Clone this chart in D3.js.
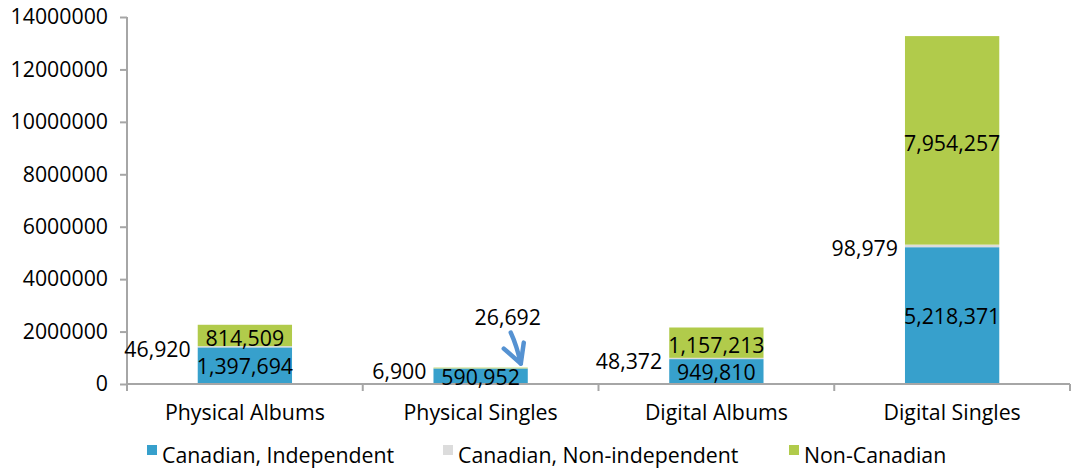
<!DOCTYPE html>
<html>
<head>
<meta charset="utf-8">
<script src="https://cdn.jsdelivr.net/npm/d3@7"></script>
<style>
  html, body { margin: 0; padding: 0; background: #fff; }
  svg { display: block; font-family: "Open Sans", "Noto Sans", sans-serif; }
</style>
</head>
<body>
<svg id="chart" width="1072" height="471"></svg>
<script>
// Units sold by format and origin
const categories = ["Physical Albums", "Physical Singles", "Digital Albums", "Digital Singles"];
const canadianIndependent = [1397694, 590952, 949810, 5218371];
const canadianNonIndependent = [46920, 6900, 48372, 98979];
const nonCanadian = [814509, 26692, 1157213, 7954257];
const yTicks = [0, 2000000, 4000000, 6000000, 8000000, 10000000, 12000000, 14000000];
const seriesNames = ["Canadian, Independent", "Canadian, Non-independent", "Non-Canadian"];
const seriesColors = ["#37a0cc", "#dcdcdc", "#b1cb4b"];

const svg = d3.select("#chart");
const plotLeft = 127, plotRight = 1070, plotTop = 17, plotBottom = 384;
const fontSize = 21.3;

const x = d3.scaleBand().domain(categories).range([plotLeft, plotRight])
  .paddingInner(0.6).paddingOuter(0.3);
const y = d3.scaleLinear().domain([0, 14000000]).range([plotBottom, plotTop]);

const rows = categories.map((c, i) => ({
  cat: c,
  ci: canadianIndependent[i],
  cn: canadianNonIndependent[i],
  nc: nonCanadian[i]
}));
const stack = d3.stack().keys(["ci", "cn", "nc"])(rows);

// Stacked bars
stack.forEach((layer, k) => {
  svg.append("g").selectAll("rect").data(layer).join("rect")
    .attr("x", d => x(d.data.cat))
    .attr("width", x.bandwidth())
    .attr("y", d => y(d[1]))
    .attr("height", d => Math.max(0, y(d[0]) - y(d[1])))
    .attr("fill", seriesColors[k]);
});

// Y axis
const yAxis = svg.append("g").attr("transform", `translate(${plotLeft},0)`)
  .call(d3.axisLeft(y).tickValues(yTicks).tickFormat(d3.format("d")).tickSize(7).tickPadding(12));
yAxis.select(".domain").attr("stroke", "#a6a6a6").attr("stroke-width", 2)
  .attr("d", `M0,${plotTop}V${plotBottom}`);
yAxis.selectAll(".tick line").attr("stroke", "#a6a6a6").attr("stroke-width", 2);
yAxis.selectAll(".tick text").attr("font-size", fontSize).attr("fill", "#000")
  .attr("font-family", "'Open Sans', sans-serif");

// X axis line and category separators
const step = x.step();
svg.append("line").attr("x1", plotLeft).attr("x2", plotRight).attr("y1", plotBottom).attr("y2", plotBottom)
  .attr("stroke", "#a6a6a6").attr("stroke-width", 2);
d3.range(categories.length + 1).forEach(i => {
  const xx = plotLeft + i * step;
  svg.append("line").attr("x1", xx).attr("x2", xx).attr("y1", plotBottom).attr("y2", plotBottom + 7)
    .attr("stroke", "#a6a6a6").attr("stroke-width", 2);
});
svg.append("g").selectAll("text").data(categories).join("text")
  .attr("x", d => x(d) + x.bandwidth() / 2)
  .attr("y", 420)
  .attr("text-anchor", "middle")
  .attr("font-size", fontSize)
  .text(d => d);

const fmt = d3.format(",");
const labels = svg.append("g").attr("font-size", fontSize).attr("fill", "#000");

// Canadian, Independent labels centred in segment
stack[0].forEach(d => {
  labels.append("text")
    .attr("x", x(d.data.cat) + x.bandwidth() / 2)
    .attr("y", (y(d[0]) + y(d[1])) / 2 + 1)
    .attr("dy", "0.35em").attr("text-anchor", "middle")
    .text(fmt(d.data.ci));
});
// Canadian, Non-independent labels to the left of the bar
stack[1].forEach(d => {
  labels.append("text")
    .attr("x", x(d.data.cat) - 7)
    .attr("y", (y(d[0]) + y(d[1])) / 2 + 3)
    .attr("dy", "0.35em").attr("text-anchor", "end")
    .text(fmt(d.data.cn));
});
// Non-Canadian labels; the thin segment gets a callout above the bar
stack[2].forEach(d => {
  const h = y(d[0]) - y(d[1]);
  if (h > 15) {
    labels.append("text")
      .attr("x", x(d.data.cat) + x.bandwidth() / 2)
      .attr("y", (y(d[0]) + y(d[1])) / 2 + 3)
      .attr("dy", "0.35em").attr("text-anchor", "middle")
      .text(fmt(d.data.nc));
  } else {
    const bx = x(d.data.cat) + x.bandwidth();
    const ty = y(d[1]);
    labels.append("text")
      .attr("x", bx - 20).attr("y", ty - 43)
      .attr("text-anchor", "middle")
      .text(fmt(d.data.nc));
    const tipX = bx - 7, tipY = ty - 4;
    const arrow = svg.append("g").attr("fill", "none").attr("stroke", "#5592d2")
      .attr("stroke-width", 4.5).attr("stroke-linecap", "round").attr("stroke-linejoin", "round");
    arrow.append("path")
      .attr("d", `M${tipX - 10},${tipY - 31} Q${tipX - 4},${tipY - 18} ${tipX},${tipY}`);
    arrow.append("path")
      .attr("d", `M${tipX - 17},${tipY - 15} L${tipX},${tipY} L${tipX + 3},${tipY - 21}`);
  }
});

// Legend
const legendX = [147, 443, 789];
const legend = svg.append("g");
seriesNames.forEach((name, i) => {
  legend.append("rect").attr("x", legendX[i]).attr("y", 445).attr("width", 10).attr("height", 10)
    .attr("fill", seriesColors[i]);
  legend.append("text").attr("x", legendX[i] + 15).attr("y", 463)
    .attr("font-size", fontSize).text(name);
});
</script>
</body>
</html>
